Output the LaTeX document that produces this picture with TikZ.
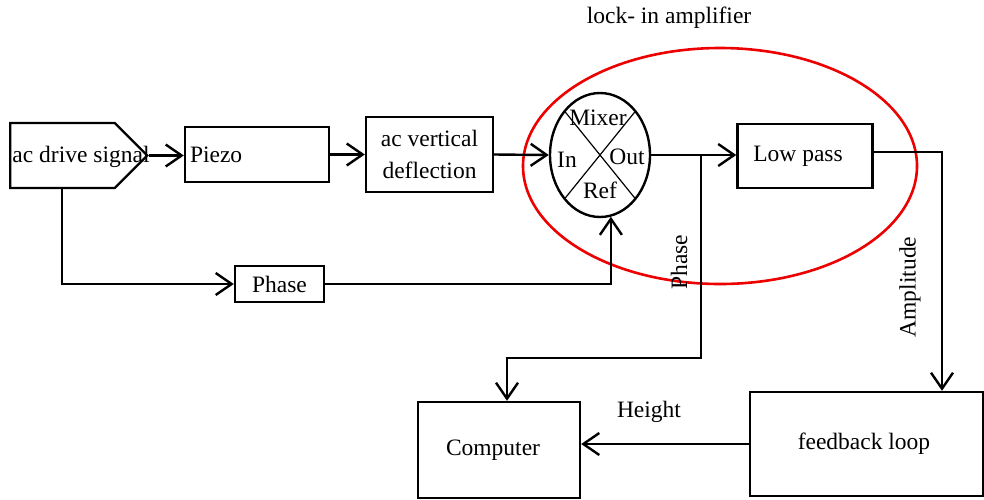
\documentclass[tikz,border=0pt]{standalone}
\usepackage{fontspec}
\setmainfont{Liberation Serif}
\usetikzlibrary{shapes.geometric, shapes.symbols, arrows.meta, positioning, calc}
\definecolor{lockred}{rgb}{0.93, 0.0, 0.0}

\begin{document}
\begin{tikzpicture}[x=1pt, y=-1pt, line width=2.4pt, font=\fontsize{23.5}{32}\selectfont]
        \tikzstyle{box} = [rectangle, draw=black, line width=2.4pt, inner sep=0pt]
        \tikzstyle{arr} = [-{Straight Barb[length=16pt, width=22pt]}, line width=2.4pt]
        \tikzstyle{tag} = [inner sep=0pt]

        \useasboundingbox (0,0) rectangle (984,499);

        % lock-in amplifier outline
        \node[ellipse, draw=lockred, line width=2.6pt, minimum width=394pt, minimum height=236pt] (lockin) at (720,166){};
        \node[tag] (locktitle) at (669,18){lock- in amplifier};

        % blocks
        \node[signal, signal to=east, signal pointer angle=90, draw, line width=2.4pt, minimum width=137pt, minimum height=65pt, inner sep=0pt] (drive) at (62.5,155.5){};
        \node[tag] (drivetext) at (81,157){ac drive signal};
        \node[box, minimum width=144pt, minimum height=55pt, text width=134pt, align=left, inner xsep=5pt] (piezo) at (257,154.5){Piezo};
        \node[box, minimum width=127pt, minimum height=75pt, align=center] (defl) at (429.5,154.5){ac vertical\\deflection};
        \node[box, minimum width=89pt, minimum height=36pt] (phase) at (279.5,284){Phase};
        \node[ellipse, draw, line width=2.4pt, minimum width=100pt, minimum height=124pt, inner sep=0pt] (mix) at (600,155){};
        \node[box, minimum width=135pt, minimum height=64pt] (lowpass) at (805,156){\hspace{-14pt}\raisebox{-3pt}{Low pass}};
        \node[box, minimum width=162pt, minimum height=96pt] (computer) at (499,450){\hspace{-12pt}\raisebox{-3pt}{Computer}};
        \node[box, minimum width=233pt, minimum height=104pt] (feedback) at (866.5,444){\hspace{-5pt}\raisebox{-5pt}{feedback loop}};

        % mixer cross and ports
        \draw[line width=1.2pt] ($(mix.center)+(-35.4,-43.8)$) -- ($(mix.center)+(35.4,43.8)$);
        \draw[line width=1.2pt] ($(mix.center)+(35.4,-43.8)$) -- ($(mix.center)+(-35.4,43.8)$);
        \node[tag] (mixname) at (598,118){Mixer};
        \node[tag] (mixin) at (567,160){In};
        \node[tag] (mixout) at (627,157){Out};
        \node[tag] (mixref) at (600,190){Ref};

        % signal path
        \coordinate (tap) at (701,155);
        \coordinate (compin) at (507,358);
        \coordinate (amp) at (942,152);
        \draw[arr] (drive.east) -- (drive.east -| piezo.west);
        \draw[arr] (piezo.east) -- (piezo.east -| defl.west);
        \draw[arr] (defl.east) -- (mix.west);
        \draw[arr] ($(drive.south west)+(53,0)$) |- (phase.west);
        \draw[arr] (phase.east) -| (mix.-80);
        \draw[arr] (mix.east) -- (mix.east -| lowpass.west);
        \draw[arr] (tap) |- (compin) -- (compin |- computer.north);
        \draw[arr] (lowpass.east |- amp) -- (amp) -- (amp |- feedback.north);
        \draw[arr] (feedback.west) -- (feedback.west -| computer.east);

        % signal names
        \node[tag, rotate=90] (phasetag) at (679,262){Phase};
        \node[tag, rotate=90] (amptag) at (910,287){Amplitude};
        \node[tag] (heighttag) at (649,412){Height};
    \end{tikzpicture}
\end{document}
